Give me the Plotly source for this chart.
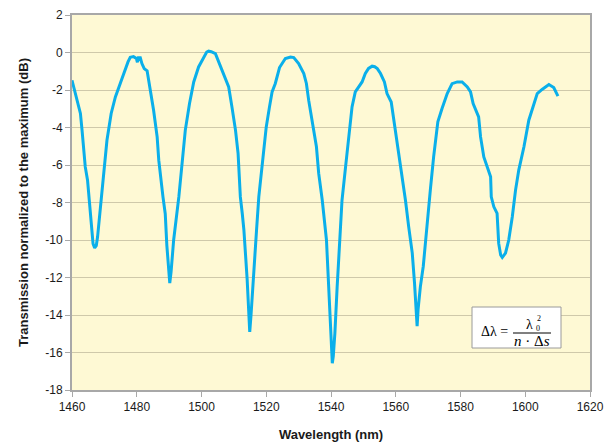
import plotly.graph_objects as go

wavelength = [
    1460.0, 1461.3, 1462.6, 1463.1, 1463.6, 1464.1, 1464.8, 1465.4, 1466.0, 1466.5,
    1467.0, 1467.5, 1467.9, 1468.7, 1469.8, 1470.8, 1472.1, 1473.4, 1474.9, 1476.5,
    1477.3, 1478.0, 1479.0, 1479.9, 1480.2, 1480.5, 1481.1, 1481.6, 1482.3, 1483.2,
    1483.7, 1484.4, 1485.2, 1486.3, 1486.8, 1488.1, 1488.8, 1489.3, 1489.8, 1490.2,
    1490.6, 1491.4, 1493.0, 1494.0, 1495.0, 1496.3, 1497.6, 1499.1, 1500.7, 1501.6,
    1502.2, 1503.0, 1504.3, 1505.3, 1506.4, 1507.4, 1508.4, 1509.4, 1510.5, 1511.3,
    1512.0, 1512.6, 1513.1, 1514.1, 1514.6, 1514.9, 1515.3, 1516.1, 1517.0, 1517.7,
    1518.7, 1520.0, 1521.0, 1521.8, 1522.8, 1524.1, 1525.9, 1527.5, 1528.5, 1530.0,
    1531.6, 1532.4, 1533.1, 1534.2, 1535.5, 1536.2, 1537.3, 1538.6, 1539.0, 1539.3,
    1539.8, 1540.2, 1540.4, 1540.7, 1541.2, 1541.9, 1542.6, 1543.4, 1544.5, 1545.5,
    1546.5, 1547.5, 1548.6, 1549.6, 1550.6, 1551.6, 1552.7, 1553.5, 1554.3, 1555.3,
    1556.5, 1557.3, 1558.6, 1559.4, 1560.4, 1561.5, 1563.0, 1564.0, 1565.1, 1565.8,
    1566.2, 1566.6, 1566.9, 1567.1, 1567.6, 1568.5, 1569.4, 1570.2, 1570.7, 1571.7,
    1573.0, 1574.3, 1575.9, 1577.4, 1579.0, 1580.5, 1582.1, 1583.1, 1583.9, 1585.6,
    1586.2, 1587.2, 1588.7, 1589.3, 1589.5, 1590.3, 1591.3, 1591.8, 1592.4, 1592.9,
    1593.9, 1594.9, 1596.0, 1597.0, 1598.0, 1599.6, 1601.1, 1602.6, 1603.7, 1605.2,
    1607.3, 1608.8, 1610.1,
]
transmission_db = [
    -1.48, -2.37, -3.25, -4.14, -5.21, -6.10, -6.81, -8.05, -9.47, -10.20,
    -10.42, -10.30, -9.83, -8.40, -6.27, -4.68, -3.25, -2.37, -1.65, -0.85,
    -0.50, -0.26, -0.22, -0.32, -0.52, -0.28, -0.28, -0.59, -0.86, -0.98,
    -1.48, -2.37, -3.08, -4.50, -5.74, -7.70, -8.60, -10.30, -11.70, -12.30,
    -11.70, -10.00, -7.70, -5.74, -4.14, -2.72, -1.57, -0.77, -0.24, 0.02,
    0.07, 0.04, -0.06, -0.50, -0.95, -1.39, -1.84, -2.90, -4.14, -5.38,
    -7.70, -8.60, -9.47, -12.10, -14.00, -14.90, -14.00, -12.10, -9.47, -7.70,
    -5.92, -3.97, -2.90, -2.10, -1.65, -0.80, -0.32, -0.24, -0.27, -0.59,
    -1.12, -1.65, -2.54, -3.79, -5.03, -6.45, -7.88, -10.00, -11.40, -13.20,
    -14.97, -16.30, -16.57, -16.20, -14.97, -12.50, -10.20, -7.88, -6.10, -4.50,
    -2.90, -2.10, -1.84, -1.57, -1.12, -0.85, -0.73, -0.76, -0.86, -1.12,
    -1.57, -2.19, -2.64, -3.61, -4.68, -5.92, -7.88, -9.30, -10.70, -12.30,
    -13.56, -14.60, -13.70, -13.20, -12.50, -11.40, -9.65, -7.88, -7.30, -5.57,
    -3.70, -2.99, -2.19, -1.66, -1.57, -1.57, -1.84, -2.10, -2.72, -3.43,
    -4.50, -5.57, -6.27, -6.63, -7.70, -8.23, -8.58, -10.18, -10.80, -10.93,
    -10.70, -10.00, -8.76, -7.34, -6.27, -5.03, -3.61, -2.72, -2.19, -1.97,
    -1.71, -1.87, -2.33,
]
x_ticks = [1460, 1480, 1500, 1520, 1540, 1560, 1580, 1600, 1620]
y_ticks = [2, 0, -2, -4, -6, -8, -10, -12, -14, -16, -18]

fig = go.Figure()
fig.add_trace(go.Scatter(
    x=wavelength, y=transmission_db, mode="lines",
    line=dict(color="#0AAFEA", width=3),
    hoverinfo="skip", showlegend=False,
))

# The page body has an 8px default margin, so the figure is drawn 8px in from
# the top-left corner; figure size and margins compensate for it.
OFF = 8
W, H = 616 - OFF, 444 - OFF
L, R, T, B = 72 - OFF, 590 - OFF, 15 - OFF, 390 - OFF   # plot-area edges in figure px

def px(xp):  # page pixel x -> paper fraction
    return (xp - OFF - L) / (R - L)
def py(yp):  # page pixel y -> paper fraction
    return (B - (yp - OFF)) / (B - T)

serif = "Liberation Serif, Times New Roman, serif"
shapes = [
    dict(type="rect", xref="paper", yref="paper",
         x0=px(472), x1=px(561), y0=py(348), y1=py(307),
         line=dict(color="#9A9A9A", width=1), fillcolor="white", layer="above"),
    dict(type="line", xref="paper", yref="paper",
         x0=px(513), x1=px(551), y0=py(333), y1=py(333),
         line=dict(color="black", width=1), layer="above"),
]

def note(text, xp, yp, size):
    return dict(text=text, x=px(xp), y=py(yp), xref="paper", yref="paper",
                xanchor="center", yanchor="middle", showarrow=False,
                font=dict(family=serif, size=size, color="black"))

annotations = [
    note("Δλ =", 494, 331, 14),
    note("λ", 529, 324, 14),
    note("2", 538.5, 318, 8),
    note("0", 537.5, 328.5, 8),
    note("<i>n</i> · Δ<i>s</i>", 532, 341, 15),
]

sans = "Liberation Sans, Arial, sans-serif"
axis_font = dict(family=sans, size=12, color="#1a1a1a")
fig.update_layout(
    width=W, height=H,
    margin=dict(l=L, r=W - R, t=T, b=H - B, autoexpand=False),
    paper_bgcolor="white",
    plot_bgcolor="#FEF9D4",
    shapes=shapes,
    annotations=annotations,
    xaxis=dict(
        range=[1460, 1620], tickvals=x_ticks, ticktext=[str(v) for v in x_ticks],
        showgrid=False, zeroline=False, automargin=False,
        showline=True, linecolor="#A8A8A8", linewidth=2, mirror=True,
        ticks="outside", ticklen=5, tickcolor="#A8A8A8", tickwidth=1,
        tickfont=axis_font,
        title=dict(text="<b>Wavelength (nm)</b>", font=dict(family=sans, size=13, color="#1a1a1a"), standoff=16),
    ),
    yaxis=dict(
        range=[-18, 2], tickvals=y_ticks, ticktext=[str(v) for v in y_ticks],
        showgrid=True, gridcolor="#CFC9AA", gridwidth=1, zeroline=False, automargin=False,
        showline=True, linecolor="#A8A8A8", linewidth=2, mirror=True,
        ticks="outside", ticklen=5, tickcolor="#A8A8A8", tickwidth=1,
        tickfont=axis_font,
        title=dict(text="<b>Transmission normalized to the maximum (dB)</b>", font=dict(family=sans, size=13, color="#1a1a1a"), standoff=14),
    ),
)

fig.write_html("out.html")
